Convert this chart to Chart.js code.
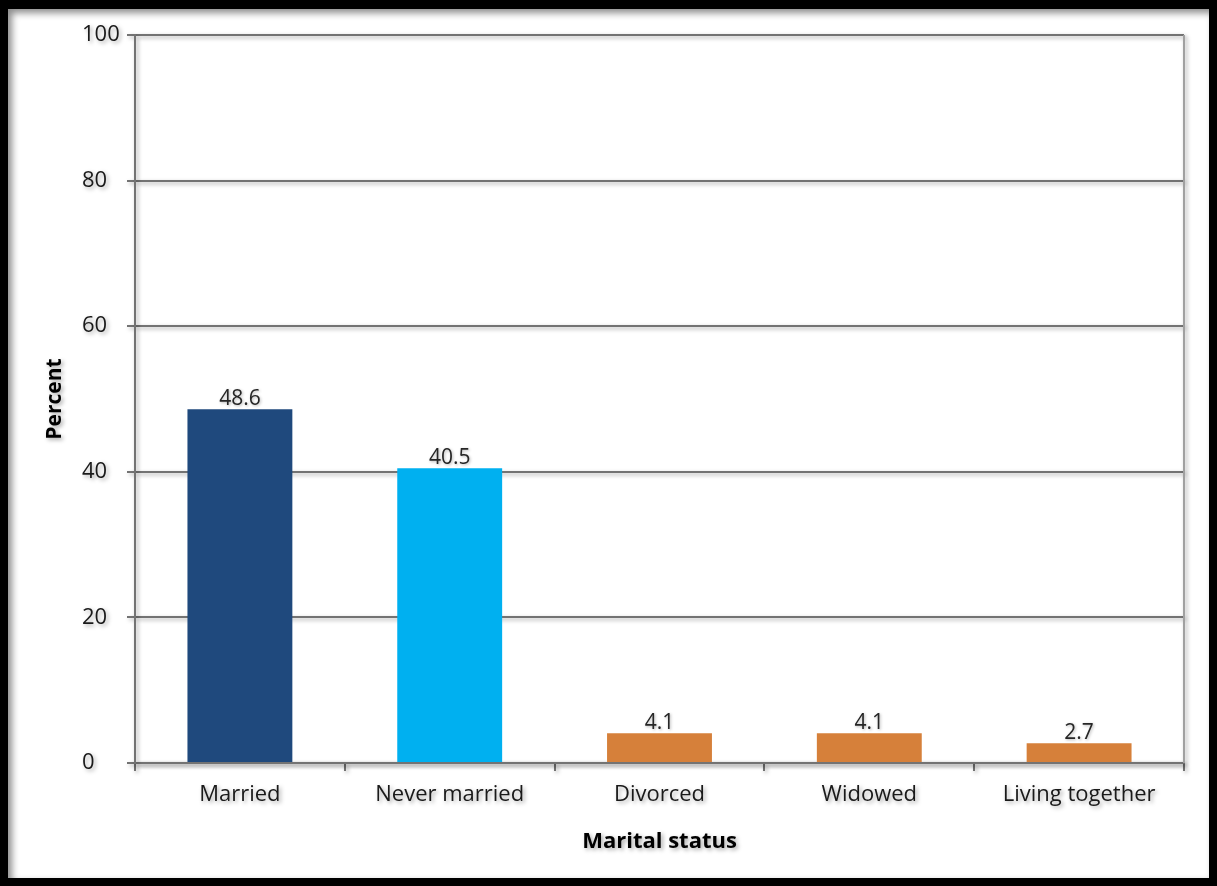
<!DOCTYPE html>
<html>
<head>
<meta charset="utf-8">
<script src="https://cdn.jsdelivr.net/npm/chart.js@4.4.1/dist/chart.umd.min.js"></script>
<style>
  html, body { margin: 0; padding: 0; background: #fff; }
  #frame {
    width: 1217px; height: 886px; box-sizing: border-box;
    border: 8px solid #000; border-top-width: 9px;
    background: #fff;
    box-shadow: inset 4px 4px 7px rgba(0,0,0,0.45);
  }
  #wrap { position: relative; width: 1201px; height: 869px; }
</style>
</head>
<body>
<div id="frame"><div id="wrap"><canvas id="myChart"></canvas></div></div>
<script>
const categories = ["Married", "Never married", "Divorced", "Widowed", "Living together"];
const percents = [48.6, 40.5, 4.1, 4.1, 2.7];
const barColors = ["#1F497D", "#00B0F0", "#D6803A", "#D6803A", "#D6803A"];
const yTicks = [0, 20, 40, 60, 80, 100];

const FONT = "'Open Sans', Lato, sans-serif";
const lineGrey = "#737373";

// soft drop shadow on text and lines (not on the bars)
const shadowPlugin = {
  id: "shadow",
  beforeDraw(chart) {
    const ctx = chart.ctx;
    ctx.shadowColor = "rgba(0,0,0,0.35)";
    ctx.shadowBlur = 4;
    ctx.shadowOffsetX = 2;
    ctx.shadowOffsetY = 2;
  },
  beforeDatasetsDraw(chart) {
    chart.ctx.shadowColor = "rgba(0,0,0,0)";
  },
  afterDatasetsDraw(chart) {
    chart.ctx.shadowColor = "rgba(0,0,0,0.35)";
  },
  afterDraw(chart) {
    chart.ctx.shadowColor = "rgba(0,0,0,0)";
  },
};

// right edge of the plot area
const frameLine = {
  id: "frameLine",
  afterDraw(chart) {
    const { ctx, chartArea } = chart;
    ctx.save();
    ctx.shadowColor = "rgba(0,0,0,0.35)";
    ctx.shadowBlur = 4;
    ctx.shadowOffsetX = 2;
    ctx.shadowOffsetY = 2;
    ctx.strokeStyle = "#a0a0a0";
    ctx.lineWidth = 2;
    ctx.beginPath();
    ctx.moveTo(chartArea.right, chartArea.top);
    ctx.lineTo(chartArea.right, chartArea.bottom);
    ctx.stroke();
    ctx.restore();
  },
};

// value above each bar
const valueLabels = {
  id: "valueLabels",
  afterDatasetsDraw(chart) {
    const ctx = chart.ctx;
    const meta = chart.getDatasetMeta(0);
    ctx.save();
    ctx.shadowColor = "rgba(0,0,0,0.3)";
    ctx.shadowBlur = 3;
    ctx.shadowOffsetX = 1;
    ctx.shadowOffsetY = 1;
    ctx.font = "21px " + FONT;
    ctx.fillStyle = "#262626";
    ctx.textAlign = "center";
    ctx.textBaseline = "bottom";
    meta.data.forEach((bar, i) => {
      ctx.fillText(percents[i].toFixed(1), bar.x, bar.y);
    });
    ctx.restore();
  },
};

const ctx = document.getElementById("myChart").getContext("2d");
const myChart = new Chart(ctx, {
  type: "bar",
  data: {
    labels: categories,
    datasets: [
      {
        data: percents,
        backgroundColor: barColors,
        borderWidth: 0,
        barPercentage: 0.5,
        categoryPercentage: 1,
      },
    ],
  },
  plugins: [shadowPlugin, frameLine, valueLabels],
  options: {
    responsive: true,
    maintainAspectRatio: false,
    animation: false,
    layout: { padding: { top: 26, right: 25, left: 74, bottom: 0 } },
    plugins: {
      legend: { display: false },
      tooltip: { enabled: false },
    },
    scales: {
      x: {
        afterFit: (scale) => { scale.height = 115; },
        grid: {
          offset: true,
          drawOnChartArea: false,
          drawTicks: true,
          tickLength: 8,
          color: lineGrey,
          lineWidth: 2,
        },
        border: { color: lineGrey, width: 2 },
        ticks: {
          color: "#1a1a1a",
          font: { family: FONT, size: 22 },
          padding: 11,
          maxRotation: 0,
        },
        title: {
          display: true,
          text: "Marital status",
          color: "#000",
          font: { family: FONT, size: 22, weight: "bold" },
          padding: { top: 0, bottom: 23 },
        },
      },
      y: {
        min: 0,
        max: 100,
        // tick labels are left-aligned, so the scale box starts where they start
        afterFit: (scale) => { scale.width = 53; },
        afterBuildTicks: (scale) => {
          scale.ticks = yTicks.map((v) => ({ value: v }));
        },
        grid: {
          color: lineGrey,
          lineWidth: 2,
          tickLength: 8,
        },
        border: { color: lineGrey, width: 2 },
        ticks: {
          color: "#1a1a1a",
          font: { family: FONT, size: 22 },
          crossAlign: "far",
          padding: 7,
        },
        title: {
          display: true,
          text: "Percent",
          color: "#000",
          font: { family: FONT, size: 21, weight: "bold" },
          padding: { top: -40, bottom: 0 },
        },
      },
    },
  },
});
</script>
</body>
</html>
